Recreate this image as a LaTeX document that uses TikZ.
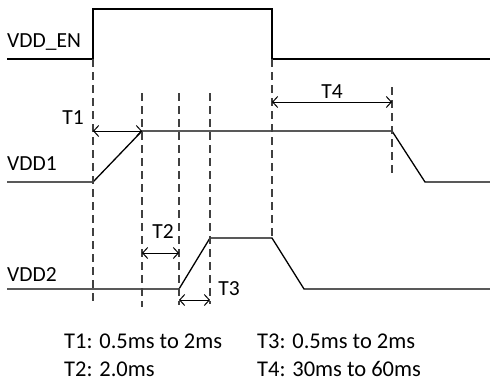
\documentclass[tikz,border=0pt]{standalone}
\usepackage{fontspec}
\setmainfont{Carlito}
\usetikzlibrary{arrows.meta,positioning}
\tikzset{
  wave/.style={line width=1.3pt},
  guide/.style={line width=1.3pt,black!75,dash pattern=on 8pt off 5pt},
  span/.style={{Straight Barb[length=5pt,width=11pt]}-{Straight Barb[length=5pt,width=11pt]},line width=1pt},
  sig/.style={anchor=west,inner sep=0pt,font=\fontsize{21.5}{26}\selectfont},
  tag/.style={inner sep=0pt,font=\fontsize{21.5}{26}\selectfont},
  spec/.style={anchor=base west,inner sep=0pt,font=\fontsize{22.5}{27}\selectfont}}

\begin{document}
\begin{tikzpicture}[x=1pt,y=-1pt]
  \useasboundingbox (0,0) rectangle (490,383);
  % signal names
  \node[sig] (en) at (7,42) {VDD\_EN};
  \node[sig] (one) at (7,164) {VDD1};
  \node[sig] (two) at (7,275) {VDD2};
  % VDD_EN
  \coordinate (en0) at (7,59);
  \coordinate (enA) at (93,59);
  \coordinate (enB) at (93,9);
  \coordinate (enC) at (272,9);
  \coordinate (enD) at (272,59);
  \coordinate (en1) at (490,59);
  \draw[wave] (en0) -- (enA) -- (enB) -- (enC) -- (enD) -- (en1);
  % VDD1
  \coordinate (a0) at (7,182);
  \coordinate (aA) at (93,182);
  \coordinate (aB) at (142,131);
  \coordinate (aC) at (392,131);
  \coordinate (aD) at (425,182);
  \coordinate (a1) at (490,182);
  \draw[wave] (a0) -- (aA) -- (aB) -- (aC) -- (aD) -- (a1);
  % VDD2
  \coordinate (b0) at (7,289);
  \coordinate (bA) at (179,289);
  \coordinate (bB) at (210,238);
  \coordinate (bC) at (272,238);
  \coordinate (bD) at (304,289);
  \coordinate (b1) at (490,289);
  \draw[wave] (b0) -- (bA) -- (bB) -- (bC) -- (bD) -- (b1);
  % guide lines
  \coordinate (g1) at (93,305);
  \coordinate (g2t) at (142,93);
  \coordinate (g2) at (142,307);
  \coordinate (g3t) at (179,93);
  \coordinate (g3) at (179,305);
  \coordinate (g4t) at (210,93);
  \coordinate (g4) at (210,304);
  \coordinate (g6t) at (392,87);
  \coordinate (g6) at (392,173);
  \draw[guide] (enA) -- (g1);
  \draw[guide] (g2t) -- (g2);
  \draw[guide] (g3t) -- (g3);
  \draw[guide] (g4t) -- (g4);
  \draw[guide] (enD) -- (bC);
  \draw[guide] (g6t) -- (g6);
  % timing spans
  \coordinate (t1a) at (93,131);
  \coordinate (t2a) at (142,253);
  \coordinate (t2b) at (179,253);
  \coordinate (t3a) at (179,300);
  \coordinate (t3b) at (210,300);
  \coordinate (t4a) at (272,102);
  \coordinate (t4b) at (392,102);
  \draw[span] (t1a) -- (aB);
  \draw[span] (t2a) -- (t2b);
  \draw[span] (t3a) -- (t3b);
  \draw[span] (t4a) -- (t4b);
  \node[tag] (t1) at (73,118) {T1};
  \node[tag] (t2) at (163,232) {T2};
  \node[tag] (t3) at (229,289) {T3};
  \node[tag] (t4) at (332,92) {T4};
  % timing values
  \node[spec] (v1) at (64,348) {T1: 0.5ms to 2ms};
  \node[spec] (v2) at (64,376) {T2: 2.0ms};
  \node[spec] (v3) at (257,348) {T3: 0.5ms to 2ms};
  \node[spec] (v4) at (257,376) {T4: 30ms to 60ms};
\end{tikzpicture}
\end{document}
